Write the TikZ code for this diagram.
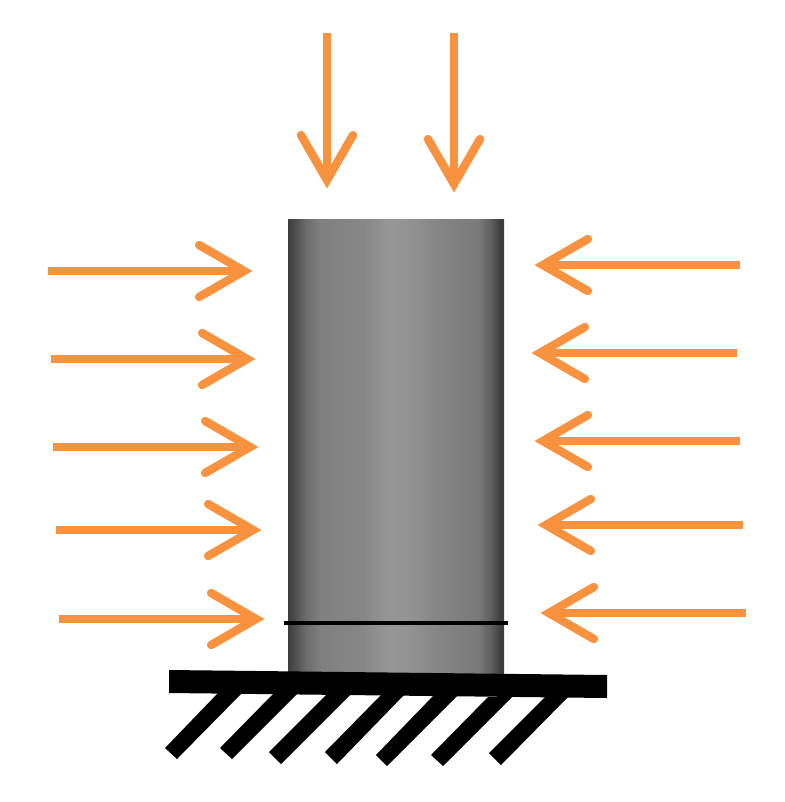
\documentclass[tikz,border=0pt]{standalone}
\usetikzlibrary{arrows.meta}
\definecolor{force}{HTML}{F9923F}
\pgfdeclarehorizontalshading{cylshade}{100bp}{
 color(0bp)=(black!76); color(25bp)=(black!76); color(26.5bp)=(black!70);
 color(29bp)=(black!58); color(32.5bp)=(black!50); color(42.5bp)=(black!47);
 color(48.5bp)=(black!41); color(52.5bp)=(black!42); color(60bp)=(black!48);
 color(69bp)=(black!52); color(72bp)=(black!63); color(74bp)=(black!75);
 color(75bp)=(black!77); color(100bp)=(black!77)}
\tikzset{
 x=1pt,y=-1pt,
 force arrow/.style={draw=force,line width=8.4pt,
   -{Straight Barb[length=45pt,width=52pt,line width=8.4pt,line cap=round,line join=miter]}},
 hatchbar/.style={fill=black,draw=none},
 cylbody/.style={shading=cylshade,draw=none},
}
\begin{document}
\begin{tikzpicture}
\useasboundingbox (0,0) rectangle (784,802);
% column
\path[cylbody] (288,219.5) rectangle (504,673);
\coordinate (cutL) at (284,623);
\coordinate (cutR) at (508,623);
\draw[black,line width=3.4pt] (cutL) -- (cutR);
% ground plate and hatching
\fill[black] (169,670) -- (607,675) -- (607,698) -- (169,693) -- cycle;
\foreach \ax/\ay/\bx/\by/\cx/\cy/\dx/\dy in {
 165/748/177/759/242/693/218/693,
 220/748/232/759/297/694/273/694,
 269/752/281/764/350/695/326/695,
 325/752/337/764/404/695/381/695,
 376/755/387/766/457/696/433/696,
 431/755/443/766/512/697/488/697,
 489/753/501/765/568/697/545/697}
 \fill[hatchbar] (\ax,\ay) -- (\bx,\by) -- (\cx,\cy) -- (\dx,\dy) -- cycle;
% forces
\foreach \n/\sx/\sy/\tx/\ty in {
 t1/327/33/327/188.5, t2/454/33/454/192.5,
 l1/48/271/252.5/271, l2/51/359/255.5/359, l3/53/447/258.5/447, l4/56/530/261.5/530, l5/59/619/264.5/619,
 r1/740/265/534.5/265, r2/737/353/531.5/353, r3/740/441/534.5/441, r4/743/525/537.5/525, r5/746/613/540.5/613}
{
 \coordinate (\n s) at (\sx,\sy);
 \coordinate (\n t) at (\tx,\ty);
 \draw[force arrow] (\n s) -- (\n t);
}
\end{tikzpicture}
\end{document}
